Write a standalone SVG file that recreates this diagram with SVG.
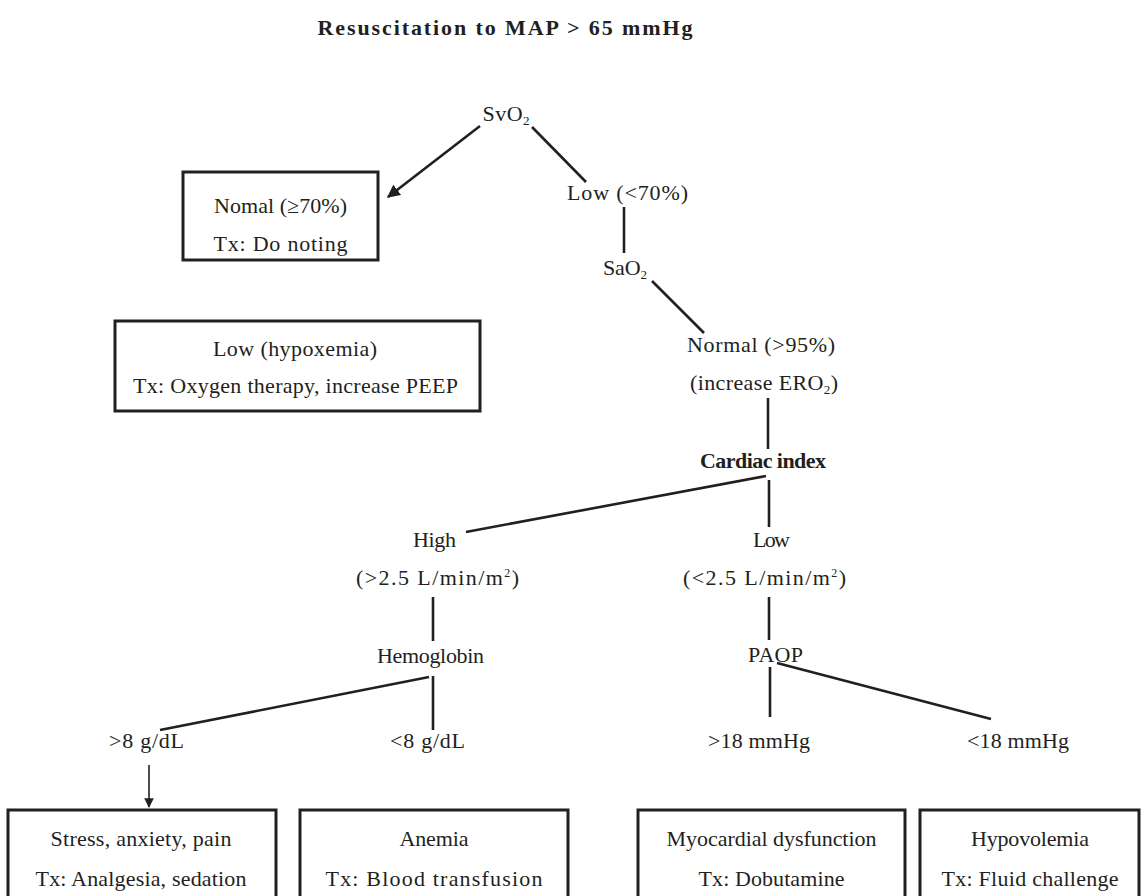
<svg xmlns="http://www.w3.org/2000/svg" width="1145" height="896" viewBox="0 0 1145 896">
<style>
text{font-family:"Liberation Serif","Times New Roman",serif;font-size:22px;fill:#231f20;text-anchor:middle}
.b{font-weight:bold}
.box{fill:none;stroke:#231f20;stroke-width:3}
.ln{stroke:#231f20;stroke-width:2.6;fill:none}
.ar{stroke:#231f20;stroke-width:1.6;fill:none}
</style>
<defs>
<marker id="ah" viewBox="0 0 10 10" refX="9" refY="5" markerWidth="5" markerHeight="5" orient="auto" markerUnits="strokeWidth"><path d="M0,0 L10,5 L0,10 z" fill="#231f20"/></marker>
<marker id="ah2" viewBox="0 0 10 10" refX="9" refY="5" markerWidth="6" markerHeight="6" orient="auto" markerUnits="strokeWidth"><path d="M0,0 L10,5 L0,10 z" fill="#231f20"/></marker>
</defs>
<rect width="1145" height="896" fill="#fff"/>
<g id="title"><text class="b" x="505" y="35" font-size="24" textLength="375" lengthAdjust="spacing">Resuscitation to MAP &gt; 65 mmHg</text></g>
<g id="connectors">
<line class="ln" x1="480" y1="126" x2="388" y2="197" marker-end="url(#ah)"/>
<line class="ln" x1="532" y1="127" x2="586" y2="182"/>
<line class="ln" x1="624" y1="207" x2="624" y2="253"/>
<line class="ln" x1="652" y1="281" x2="704" y2="333"/>
<line class="ln" x1="768" y1="398" x2="768" y2="449"/>
<line class="ln" x1="766" y1="476" x2="466" y2="532"/>
<line class="ln" x1="769" y1="480" x2="769" y2="527"/>
<line class="ln" x1="433" y1="597" x2="433" y2="641"/>
<line class="ln" x1="769" y1="597" x2="769" y2="640"/>
<line class="ln" x1="429" y1="677" x2="160" y2="730"/>
<line class="ln" x1="433" y1="676" x2="433" y2="730"/>
<line class="ln" x1="770" y1="667" x2="770" y2="717"/>
<line class="ln" x1="777" y1="663" x2="991" y2="719"/>
<line class="ar" x1="149" y1="765" x2="149" y2="807" marker-end="url(#ah2)"/>
</g>
<g id="svo2"><text x="506" y="121" textLength="47" lengthAdjust="spacing">SvO<tspan font-size="13" dy="4">2</tspan></text></g>
<g id="normal-box"><rect class="box" x="183" y="172" width="195" height="88"/>
<text x="280.5" y="213" textLength="133" lengthAdjust="spacing">Nomal (≥70%)</text>
<text x="280.5" y="251" textLength="134" lengthAdjust="spacing">Tx: Do noting</text></g>
<g id="low70"><text x="627.5" y="200" textLength="121" lengthAdjust="spacing">Low (&lt;70%)</text></g>
<g id="sao2"><text x="625" y="275" textLength="44" lengthAdjust="spacing">SaO<tspan font-size="13" dy="4">2</tspan></text></g>
<g id="hypoxemia-box"><rect class="box" x="115" y="321" width="365" height="90"/>
<text x="295" y="356" textLength="164" lengthAdjust="spacing">Low (hypoxemia)</text>
<text x="295.5" y="393" textLength="325" lengthAdjust="spacing">Tx: Oxygen therapy, increase PEEP</text></g>
<g id="normal95"><text x="761" y="352" textLength="148" lengthAdjust="spacing">Normal (&gt;95%)</text>
<text x="764" y="390" textLength="148" lengthAdjust="spacing">(increase ERO<tspan font-size="13" dy="4">2</tspan><tspan dy="-4">)</tspan></text></g>
<g id="cardiac"><text class="b" x="763" y="468" textLength="126" lengthAdjust="spacing">Cardiac index</text></g>
<g id="high"><text x="434.5" y="547" textLength="43" lengthAdjust="spacing">High</text>
<text x="437.5" y="585" textLength="163" lengthAdjust="spacing">(&gt;2.5 L/min/m<tspan font-size="12" dy="-8">2</tspan><tspan dy="8">)</tspan></text></g>
<g id="low-ci"><text x="771.5" y="547" textLength="37" lengthAdjust="spacing">Low</text>
<text x="764.5" y="585" textLength="163" lengthAdjust="spacing">(&lt;2.5 L/min/m<tspan font-size="12" dy="-8">2</tspan><tspan dy="8">)</tspan></text></g>
<g id="hemoglobin"><text x="430.5" y="663" textLength="107" lengthAdjust="spacing">Hemoglobin</text></g>
<g id="paop"><text x="775.5" y="662" textLength="55" lengthAdjust="spacing">PAOP</text></g>
<g id="gt8"><text x="146.5" y="748" textLength="75" lengthAdjust="spacing">&gt;8 g/dL</text></g>
<g id="lt8"><text x="427.5" y="748" textLength="75" lengthAdjust="spacing">&lt;8 g/dL</text></g>
<g id="gt18"><text x="759" y="748" textLength="102" lengthAdjust="spacing">&gt;18 mmHg</text></g>
<g id="lt18"><text x="1018" y="748" textLength="102" lengthAdjust="spacing">&lt;18 mmHg</text></g>
<g id="stress-box"><rect class="box" x="8" y="810" width="268" height="100"/>
<text x="141" y="846" textLength="181" lengthAdjust="spacing">Stress, anxiety, pain</text>
<text x="141" y="886" textLength="211" lengthAdjust="spacing">Tx: Analgesia, sedation</text></g>
<g id="anemia-box"><rect class="box" x="300" y="810" width="268" height="100"/>
<text x="434" y="846" textLength="69" lengthAdjust="spacing">Anemia</text>
<text x="434" y="886" textLength="217" lengthAdjust="spacing">Tx: Blood transfusion</text></g>
<g id="myocardial-box"><rect class="box" x="638" y="810" width="267" height="100"/>
<text x="771.5" y="846" textLength="210" lengthAdjust="spacing">Myocardial dysfunction</text>
<text x="771.5" y="886" textLength="146" lengthAdjust="spacing">Tx: Dobutamine</text></g>
<g id="hypovolemia-box"><rect class="box" x="920" y="810" width="219" height="100"/>
<text x="1030" y="846" textLength="118" lengthAdjust="spacing">Hypovolemia</text>
<text x="1030" y="886" textLength="177" lengthAdjust="spacing">Tx: Fluid challenge</text></g>
</svg>
